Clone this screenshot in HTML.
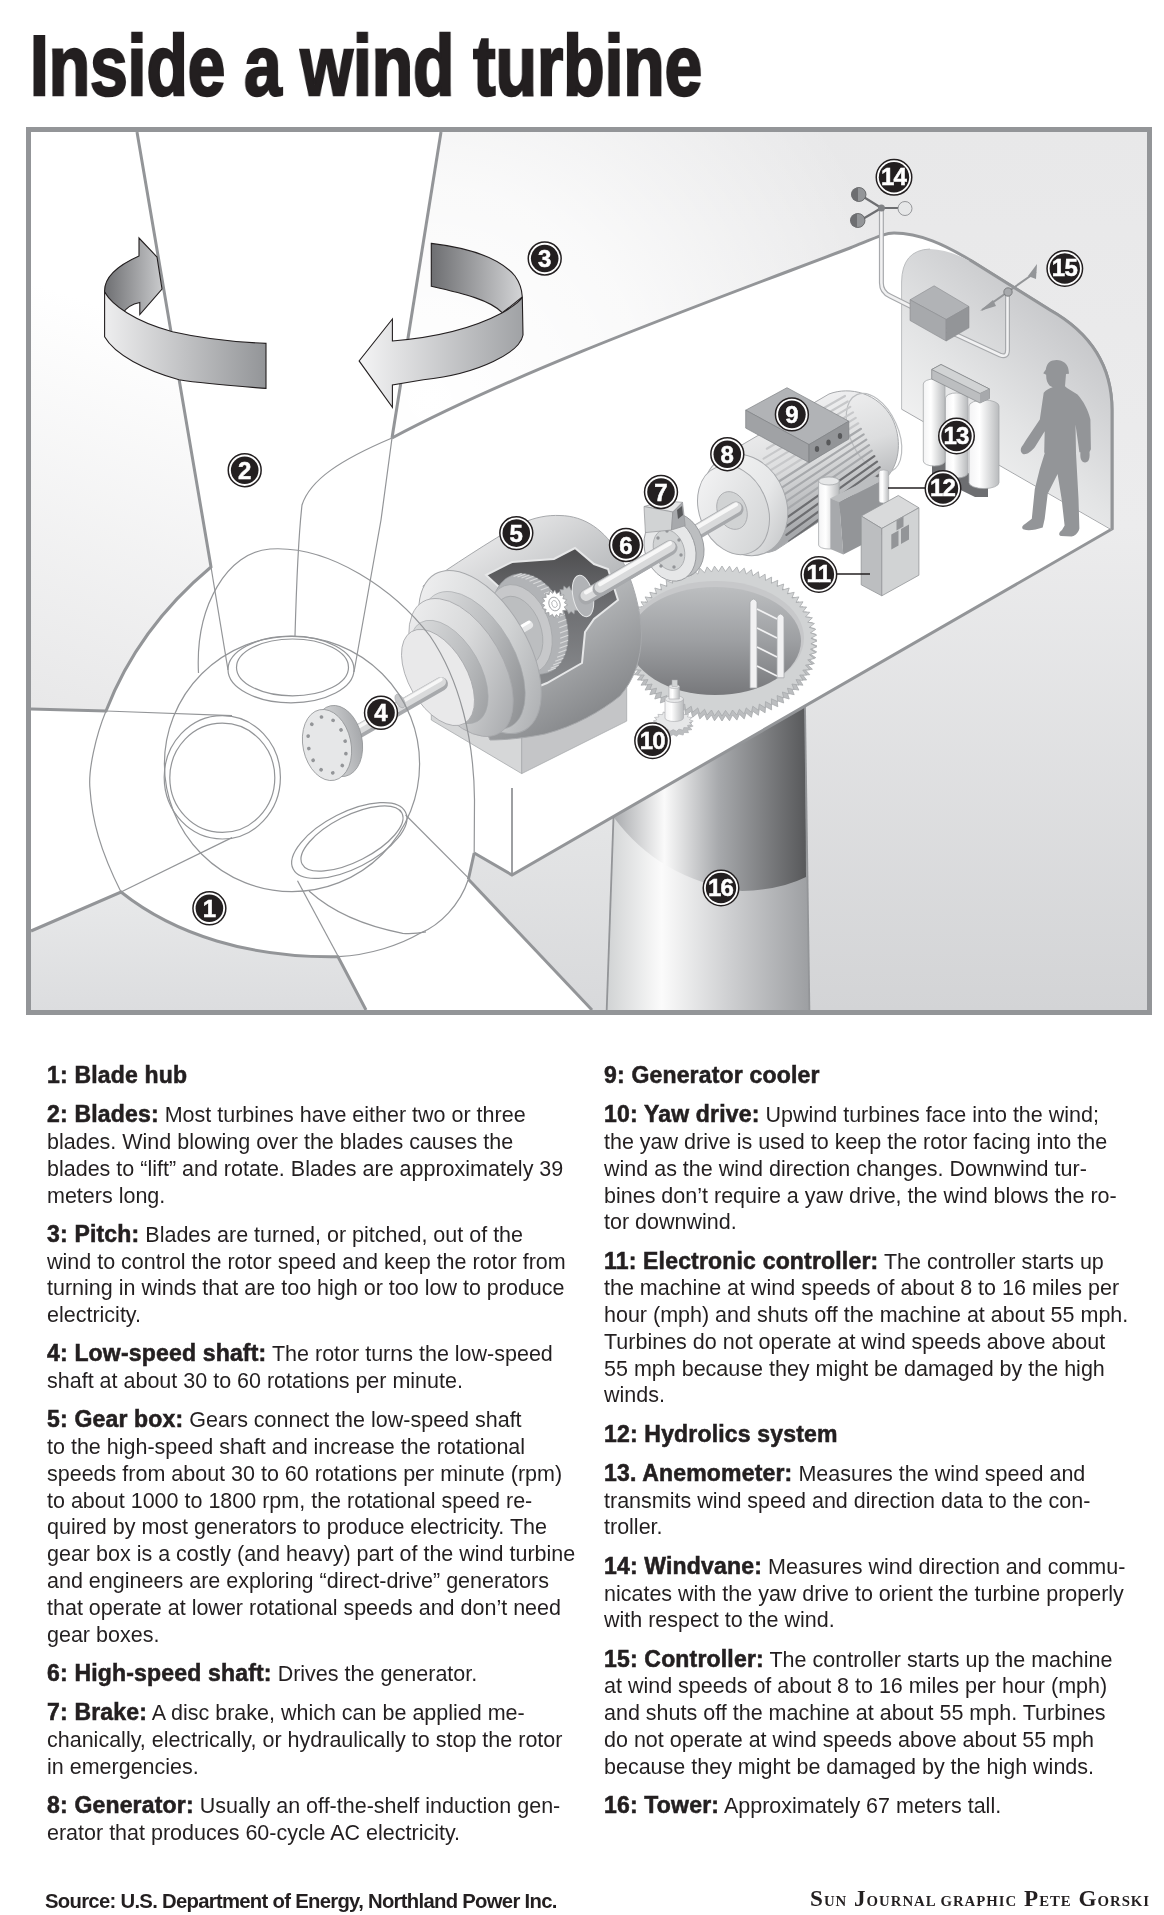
<!DOCTYPE html>
<html><head><meta charset="utf-8">
<style>
html,body{margin:0;padding:0;background:#fff;}
body{width:1164px;height:1915px;position:relative;overflow:hidden;font-family:"Liberation Sans",sans-serif;color:#231f20;}
#title{will-change:transform;position:absolute;left:30px;top:16px;font-weight:bold;font-size:84.7px;line-height:100px;white-space:nowrap;transform-origin:0 0;transform:scaleX(0.798);-webkit-text-stroke:2.5px #231f20;color:#231f20;}
#art{position:absolute;left:0;top:0;will-change:transform;}
.col{will-change:transform;position:absolute;top:1062.9px;font-size:21.5px;line-height:26.77px;white-space:nowrap;letter-spacing:0px;}
.col p{margin:0 0 12.5px 0;}
.col b{font-weight:bold;font-size:23px;line-height:0;letter-spacing:0.18px;-webkit-text-stroke:0.55px #231f20;}
#lc{left:47px;}
#rc{left:604px;}
#src{will-change:transform;position:absolute;left:45px;top:1886.5px;font-weight:bold;font-size:20.3px;line-height:28px;letter-spacing:-0.71px;white-space:nowrap;}
#cred{will-change:transform;position:absolute;left:810px;top:1884px;font-family:"Liberation Serif",serif;font-weight:bold;font-size:23.2px;line-height:28px;white-space:nowrap;letter-spacing:0.98px;}
#cred .s{font-size:14.8px;}
</style></head><body>
<div id="title">Inside a wind turbine</div>
<svg id="art" width="1164" height="1030" viewBox="0 0 1164 1030">
<!-- ART -->
<defs>
<linearGradient id="gUL" x1="170" y1="330" x2="40" y2="705" gradientUnits="userSpaceOnUse"><stop offset="0" stop-color="#ffffff"/><stop offset="1" stop-color="#e8e8e9"/></linearGradient>
<linearGradient id="gR" x1="0" y1="132" x2="0" y2="1010" gradientUnits="userSpaceOnUse"><stop offset="0" stop-color="#e8e8e9"/><stop offset="0.45" stop-color="#ececed"/><stop offset="1" stop-color="#d3d4d6"/></linearGradient>
<radialGradient id="gRw" cx="430" cy="400" r="480" gradientUnits="userSpaceOnUse"><stop offset="0" stop-color="#ffffff" stop-opacity="1"/><stop offset="0.45" stop-color="#ffffff" stop-opacity="0.75"/><stop offset="1" stop-color="#ffffff" stop-opacity="0"/></radialGradient>
<linearGradient id="gLM" x1="0" y1="820" x2="0" y2="1010" gradientUnits="userSpaceOnUse"><stop offset="0" stop-color="#e4e5e6"/><stop offset="1" stop-color="#d8d9db"/></linearGradient>
<linearGradient id="gLL" x1="0" y1="890" x2="0" y2="1010" gradientUnits="userSpaceOnUse"><stop offset="0" stop-color="#e8e9ea"/><stop offset="1" stop-color="#dcdddf"/></linearGradient>
<linearGradient id="gTw1" x1="612" y1="0" x2="806" y2="0" gradientUnits="userSpaceOnUse"><stop offset="0" stop-color="#a7a9ac"/><stop offset="0.27" stop-color="#fafafa"/><stop offset="0.55" stop-color="#a7a9ac"/><stop offset="1" stop-color="#58595b"/></linearGradient>
<linearGradient id="gTw2" x1="607" y1="0" x2="809" y2="0" gradientUnits="userSpaceOnUse"><stop offset="0" stop-color="#d1d3d4"/><stop offset="0.27" stop-color="#fbfbfb"/><stop offset="0.6" stop-color="#cfd0d2"/><stop offset="1" stop-color="#9d9fa2"/></linearGradient>
</defs>
<rect x="31" y="132" width="1116" height="878" fill="#ffffff"/>
<!-- upper-left sky -->
<path d="M31,132 L137,132 L211,567 Q138,628 106,711 L31,709 Z" fill="url(#gUL)"/>
<!-- right sky -->
<path d="M441,132 L1147,132 L1147,1010 L809,1010 L805,706 L1112,529 L1112,410 Q1112,345 1050,310 L970,260 C945,245 920,233 894,233 C885,233 875,238 850,248 C700,305 520,370 392,438 Z" fill="url(#gR)"/>
<path d="M441,132 L1147,132 L1147,1010 L809,1010 L805,706 L1112,529 L1112,410 Q1112,345 1050,310 L970,260 C945,245 920,233 894,233 C885,233 875,238 850,248 C700,305 520,370 392,438 Z" fill="url(#gRw)"/>
<!-- lower-left sky -->
<path d="M31,931 L121,892 C175,935 250,958 338,956.7 L366,1010 L31,1010 Z" fill="url(#gLL)"/>
<!-- lower-middle sky -->
<path d="M474.2,853 L512,875 L613.5,817 L606.7,1010 L592,1010 L468.4,879.3 Z" fill="url(#gLM)"/>
<!-- tower -->
<path d="M613.5,817 L805,706 L809.4,1010 L606.7,1010 Z" fill="url(#gTw2)"/>
<path d="M613.5,817 L805,706 L806,877 Q780,890 742,891 Q660,880 613.5,817 Z" fill="url(#gTw1)"/>
<!-- thick silhouette lines -->
<g fill="none" stroke="#939598" stroke-width="3">
<path d="M137,132 L211,567 Q138,628 106,711 L31,709"/>
<path d="M441,132 L392,438"/>
<path d="M31,931 L121,892 C175,935 250,958 338,956.7 L366,1010"/>
<path d="M392,438 C520,370 700,305 850,248 C875,238 885,233 894,233 C920,233 945,245 970,260 L1050,310 Q1112,345 1112,410 L1112,529 L512,875 L474.2,853"/>
<path d="M468.4,879.3 L592,1010"/>
</g>
<g fill="none" stroke="#939598" stroke-width="1.8">
<path d="M613.5,817 L606.7,1010"/>
<path d="M805,706 L809.4,1010"/>
<path d="M512,788 L512,875"/>
</g>



<!-- nacelle back wall -->
<defs>
<linearGradient id="gWall" x1="1100" y1="300" x2="930" y2="480" gradientUnits="userSpaceOnUse"><stop offset="0" stop-color="#bfc0c3"/><stop offset="0.6" stop-color="#e3e4e5"/><stop offset="1" stop-color="#f6f6f6"/></linearGradient>
<linearGradient id="gCyl" x1="0" y1="0" x2="1" y2="0"><stop offset="0" stop-color="#f3f3f4"/><stop offset="0.35" stop-color="#ffffff"/><stop offset="1" stop-color="#b9bbbd"/></linearGradient>
<linearGradient id="gPipe" x1="0" y1="0" x2="1" y2="0"><stop offset="0" stop-color="#d9dadb"/><stop offset="0.5" stop-color="#ffffff"/><stop offset="1" stop-color="#a7a9ac"/></linearGradient>
</defs>
<path d="M901.6,409.2 L901.6,282 Q902,250 930,249 Q952,250 975,264 L1050,310 Q1112,345 1112,410 L1112,529.5 Z" fill="url(#gWall)"/>
<path d="M901.6,409.2 L901.6,282 Q902,250 930,249" fill="none" stroke="#bcbec0" stroke-width="1"/>
<path d="M901.6,409.2 L1111,529.5" fill="none" stroke="#a7a9ac" stroke-width="1"/>
<path d="M970,260 L1050,310 Q1112,345 1112,410 L1112,529.5" fill="none" stroke="#939598" stroke-width="3"/>
<!-- anemometer mast & pipes -->
<g fill="none" stroke-linecap="round" stroke-linejoin="round">
<path d="M881.4,208 L881.4,283 Q881.4,292 890,296 L912,307 M946,330 L1000,355 Q1007.5,358 1007.5,350 L1007.5,292" stroke="#a7a9ac" stroke-width="5"/>
<path d="M881.4,208 L881.4,283 Q881.4,292 890,296 L912,307 M946,330 L1000,355 Q1007.5,358 1007.5,350 L1007.5,292" stroke="#f1f1f2" stroke-width="2.6"/>
</g>
<!-- controller box 15 -->
<path d="M910,299.8 L934.1,285.8 L969,306.5 L946.2,319.5 Z" fill="#b1b3b6" stroke="#8a8c8f" stroke-width="0.6"/>
<path d="M910,299.8 L946.2,319.5 L946.2,341 L910,320.5 Z" fill="#a7a9ac" stroke="#8a8c8f" stroke-width="0.6"/>
<path d="M946.2,319.5 L969,306.5 L969,327.8 L946.2,341 Z" fill="#939598" stroke="#8a8c8f" stroke-width="0.6"/>
<!-- windvane -->
<path d="M982,310 L1036,272" stroke="#939598" stroke-width="2" fill="none"/>
<path d="M980,311 L993,300 L996,306 Z" fill="#939598"/>
<path d="M1028,276 L1037,264 L1036,279 Z" fill="#939598"/>
<circle cx="1008" cy="292" r="4.2" fill="#a7a9ac" stroke="#6d6e71" stroke-width="0.8"/>
<!-- anemometer cups -->
<g stroke="#6d6e71" stroke-width="2.2"><path d="M881.4,208 L862,196 M881.4,208 L861,220 M881.4,208 L900,208"/></g>
<circle cx="859" cy="194.5" r="7" fill="#939598" stroke="#58595b" stroke-width="0.8"/>
<circle cx="858" cy="220.5" r="7" fill="#939598" stroke="#58595b" stroke-width="0.8"/>
<path d="M858,187.5 A7,7 0 0 0 858,201.5 Z" fill="#6d6e71"/>
<path d="M857,213.5 A7,7 0 0 0 857,227.5 Z" fill="#6d6e71"/>
<circle cx="905" cy="208.5" r="7" fill="#e6e7e8" stroke="#808285" stroke-width="0.8"/>
<circle cx="881.4" cy="208" r="3.5" fill="#808285"/>
<!-- person -->
<path fill="#939598" d="M1043.2,373.3 L1045.7,369.8 C1047,362 1051,360 1056.6,359.9 C1063,360 1068,364 1068.5,369.8 L1069,373.8 L1066,374 L1065,386.2 L1067,388 L1077.5,394.6 C1084,402 1088,410 1090.4,419.4 L1090.9,449.2 L1089.5,452 C1090,458 1089,462 1085,462.5 C1081,462 1080,458 1080.4,452.2 L1079.4,452.2 L1075.5,424.4 L1076,453.2 L1078.5,498.8 L1079.4,528.6 C1078,534 1074,536.5 1071.5,536.5 L1061,536 C1058,535 1059,532 1062,530 L1064.6,525.6 L1061.6,498.8 L1057.6,474 L1047.7,493.8 L1044.7,518.7 L1042.7,527.6 C1036,530 1028,531 1024,529.6 C1021,528 1022,526 1025,524 L1031.8,518.7 L1034.8,488.9 L1039.8,469 L1044.7,453.2 L1044.2,452.2 L1044.7,431.3 L1034.8,447.2 C1031,452 1026,455 1023,454 C1020,452 1020,448 1023,445 L1025.9,440.3 L1039.8,419.4 L1043.7,392.7 C1046,390 1050,388 1052.7,387.2 L1049.7,385.7 C1047,383 1046,379 1046.2,374.8 Z"/>
<!-- 13 cylinders -->
<path d="M932,455 L988,483 L988,497 L975,497 L932,476 Z" fill="#6d6e71"/>
<g stroke="#a7a9ac" stroke-width="0.8">
<path d="M923.3,384 A10.8,5 0 0 1 945,384 L945,461 A10.8,5 0 0 1 923.3,461 Z" fill="url(#gCyl)"/>
<path d="M945.5,398 A11,5 0 0 1 967.8,398 L967.8,473 A11,5 0 0 1 945.5,473 Z" fill="url(#gCyl)"/>
<path d="M969,406 A15,6 0 0 1 999,406 L999,482.6 A15,6 0 0 1 969,482.6 Z" fill="url(#gCyl)"/>
</g>
<path d="M931.7,369.5 L941,364.5 L989.5,389 L989.5,398.4 L980,403 L931.7,379 Z" fill="#bcbec0" stroke="#808285" stroke-width="0.7"/>
<path d="M931.7,369.5 L941,364.5 L989.5,389 L980,393.5 Z" fill="#d1d3d4" stroke="#808285" stroke-width="0.7"/>
<path d="M980,393.5 L989.5,389 L989.5,398.4 L980,403 Z" fill="#a7a9ac"/>


<!-- yaw gear -->
<defs>
<linearGradient id="gHole" x1="0" y1="587" x2="0" y2="695" gradientUnits="userSpaceOnUse"><stop offset="0" stop-color="#bcbec0"/><stop offset="0.5" stop-color="#9d9fa2"/><stop offset="1" stop-color="#77787b"/></linearGradient>
</defs>
<path d="M817.0,646.0 L810.9,648.7 L816.7,651.9 L810.4,654.2 L815.8,657.7 L809.3,659.6 L814.4,663.5 L807.7,664.9 L812.4,669.2 L805.5,670.1 L809.8,674.7 L802.8,675.1 L806.6,680.0 L799.7,680.0 L803.0,685.2 L796.0,684.6 L798.9,690.1 L791.9,689.0 L794.2,694.7 L787.4,693.2 L789.2,699.0 L782.4,697.0 L783.7,703.0 L777.1,700.6 L777.8,706.7 L771.4,703.8 L771.6,709.9 L765.5,706.6 L765.1,712.8 L759.3,709.1 L758.4,715.3 L752.8,711.2 L751.4,717.3 L746.2,712.9 L744.2,718.9 L739.4,714.2 L736.9,720.1 L732.5,715.0 L729.5,720.8 L725.5,715.4 L722.0,721.0 L718.5,715.4 L714.5,720.8 L711.5,715.0 L707.1,720.1 L704.6,714.2 L699.8,718.9 L697.8,712.9 L692.6,717.3 L691.2,711.2 L685.6,715.3 L684.7,709.1 L678.9,712.8 L678.5,706.6 L672.4,709.9 L672.6,703.8 L666.2,706.7 L666.9,700.6 L660.3,703.0 L661.6,697.0 L654.8,699.0 L656.6,693.2 L649.8,694.7 L652.1,689.0 L645.1,690.1 L648.0,684.6 L641.0,685.2 L644.3,680.0 L637.4,680.0 L641.2,675.1 L634.2,674.7 L638.5,670.1 L631.6,669.2 L636.3,664.9 L629.6,663.5 L634.7,659.6 L628.2,657.7 L633.6,654.2 L627.3,651.9 L633.1,648.7 L627.0,646.0 L633.1,643.3 L627.3,640.1 L633.6,637.8 L628.2,634.3 L634.7,632.4 L629.6,628.5 L636.3,627.1 L631.6,622.8 L638.5,621.9 L634.2,617.3 L641.2,616.9 L637.4,612.0 L644.3,612.0 L641.0,606.8 L648.0,607.4 L645.1,601.9 L652.1,603.0 L649.8,597.3 L656.6,598.8 L654.8,593.0 L661.6,595.0 L660.3,589.0 L666.9,591.4 L666.2,585.3 L672.6,588.2 L672.4,582.1 L678.5,585.4 L678.9,579.2 L684.7,582.9 L685.6,576.7 L691.2,580.8 L692.6,574.7 L697.8,579.1 L699.8,573.1 L704.6,577.8 L707.1,571.9 L711.5,577.0 L714.5,571.2 L718.5,576.6 L722.0,571.0 L725.5,576.6 L729.5,571.2 L732.5,577.0 L736.9,571.9 L739.4,577.8 L744.2,573.1 L746.2,579.1 L751.4,574.7 L752.8,580.8 L758.4,576.7 L759.3,582.9 L765.1,579.2 L765.5,585.4 L771.6,582.1 L771.4,588.2 L777.8,585.3 L777.1,591.4 L783.7,589.0 L782.4,595.0 L789.2,593.0 L787.4,598.8 L794.2,597.3 L791.9,603.0 L798.9,601.9 L796.0,607.4 L803.0,606.8 L799.7,612.0 L806.6,612.0 L802.8,616.9 L809.8,617.3 L805.5,621.9 L812.4,622.8 L807.7,627.1 L814.4,628.5 L809.3,632.4 L815.8,634.3 L810.4,637.8 L816.7,640.1 L810.9,643.3 Z" fill="#bcbec0" stroke="#a7a9ac" stroke-width="0.8"/>
<path d="M817.0,641.0 L810.9,643.7 L816.7,646.9 L810.4,649.2 L815.8,652.7 L809.3,654.6 L814.4,658.5 L807.7,659.9 L812.4,664.2 L805.5,665.1 L809.8,669.7 L802.8,670.1 L806.6,675.0 L799.7,675.0 L803.0,680.2 L796.0,679.6 L798.9,685.1 L791.9,684.0 L794.2,689.7 L787.4,688.2 L789.2,694.0 L782.4,692.0 L783.7,698.0 L777.1,695.6 L777.8,701.7 L771.4,698.8 L771.6,704.9 L765.5,701.6 L765.1,707.8 L759.3,704.1 L758.4,710.3 L752.8,706.2 L751.4,712.3 L746.2,707.9 L744.2,713.9 L739.4,709.2 L736.9,715.1 L732.5,710.0 L729.5,715.8 L725.5,710.4 L722.0,716.0 L718.5,710.4 L714.5,715.8 L711.5,710.0 L707.1,715.1 L704.6,709.2 L699.8,713.9 L697.8,707.9 L692.6,712.3 L691.2,706.2 L685.6,710.3 L684.7,704.1 L678.9,707.8 L678.5,701.6 L672.4,704.9 L672.6,698.8 L666.2,701.7 L666.9,695.6 L660.3,698.0 L661.6,692.0 L654.8,694.0 L656.6,688.2 L649.8,689.7 L652.1,684.0 L645.1,685.1 L648.0,679.6 L641.0,680.2 L644.3,675.0 L637.4,675.0 L641.2,670.1 L634.2,669.7 L638.5,665.1 L631.6,664.2 L636.3,659.9 L629.6,658.5 L634.7,654.6 L628.2,652.7 L633.6,649.2 L627.3,646.9 L633.1,643.7 L627.0,641.0 L633.1,638.3 L627.3,635.1 L633.6,632.8 L628.2,629.3 L634.7,627.4 L629.6,623.5 L636.3,622.1 L631.6,617.8 L638.5,616.9 L634.2,612.3 L641.2,611.9 L637.4,607.0 L644.3,607.0 L641.0,601.8 L648.0,602.4 L645.1,596.9 L652.1,598.0 L649.8,592.3 L656.6,593.8 L654.8,588.0 L661.6,590.0 L660.3,584.0 L666.9,586.4 L666.2,580.3 L672.6,583.2 L672.4,577.1 L678.5,580.4 L678.9,574.2 L684.7,577.9 L685.6,571.7 L691.2,575.8 L692.6,569.7 L697.8,574.1 L699.8,568.1 L704.6,572.8 L707.1,566.9 L711.5,572.0 L714.5,566.2 L718.5,571.6 L722.0,566.0 L725.5,571.6 L729.5,566.2 L732.5,572.0 L736.9,566.9 L739.4,572.8 L744.2,568.1 L746.2,574.1 L751.4,569.7 L752.8,575.8 L758.4,571.7 L759.3,577.9 L765.1,574.2 L765.5,580.4 L771.6,577.1 L771.4,583.2 L777.8,580.3 L777.1,586.4 L783.7,584.0 L782.4,590.0 L789.2,588.0 L787.4,593.8 L794.2,592.3 L791.9,598.0 L798.9,596.9 L796.0,602.4 L803.0,601.8 L799.7,607.0 L806.6,607.0 L802.8,611.9 L809.8,612.3 L805.5,616.9 L812.4,617.8 L807.7,622.1 L814.4,623.5 L809.3,627.4 L815.8,629.3 L810.4,632.8 L816.7,635.1 L810.9,638.3 Z" fill="#d1d3d4" stroke="#a7a9ac" stroke-width="0.8"/>
<ellipse cx="716" cy="638" rx="88" ry="57" fill="#c7c8ca"/>
<ellipse cx="715" cy="641" rx="86" ry="54" fill="url(#gHole)"/>
<!-- ladder -->
<g stroke="#a7a9ac" stroke-width="0.8" fill="#f1f1f2">
<path d="M750,602 Q753.6,596 757,602 L757,688 L750,688 Z"/>
<path d="M777,617 Q780.4,611 784,617 L784,677.8 L777,677.8 Z"/>
</g>
<g stroke="#f1f1f2" stroke-width="1.8"><path d="M757,609 L777,619 M757,628 L777,638 M757,647 L777,657 M757,666 L777,676"/></g>
<!-- yaw drive 10 -->
<path d="M693.2,726.0 L689.4,727.5 L692.0,729.6 L687.5,730.2 L688.5,732.7 L683.8,732.5 L683.2,735.1 L678.8,734.0 L676.7,736.3 L673.2,734.5 L669.7,736.3 L667.6,734.0 L663.2,735.1 L662.6,732.5 L657.9,732.7 L658.9,730.2 L654.4,729.6 L657.0,727.5 L653.2,726.0 L657.0,724.5 L654.4,722.4 L658.9,721.8 L657.9,719.3 L662.6,719.5 L663.2,716.9 L667.6,718.0 L669.7,715.7 L673.2,717.5 L676.7,715.7 L678.8,718.0 L683.2,716.9 L683.8,719.5 L688.5,719.3 L687.5,721.8 L692.0,722.4 L689.4,724.5 Z" fill="#bcbec0" stroke="#a7a9ac" stroke-width="0.6"/>
<path d="M693.2,721.1 L689.4,722.6 L692.0,724.7 L687.5,725.4 L688.5,727.8 L683.8,727.6 L683.2,730.2 L678.8,729.1 L676.7,731.4 L673.2,729.6 L669.7,731.4 L667.6,729.1 L663.2,730.2 L662.6,727.6 L657.9,727.8 L658.9,725.4 L654.4,724.7 L657.0,722.6 L653.2,721.1 L657.0,719.6 L654.4,717.5 L658.9,716.9 L657.9,714.4 L662.6,714.6 L663.2,712.0 L667.6,713.1 L669.7,710.8 L673.2,712.6 L676.7,710.8 L678.8,713.1 L683.2,712.0 L683.8,714.6 L688.5,714.4 L687.5,716.9 L692.0,717.5 L689.4,719.6 Z" fill="#e6e7e8" stroke="#a7a9ac" stroke-width="0.6"/>
<path d="M665,699 L665,718 A9.25,3.5 0 0 0 683.5,718 L683.5,699 Z" fill="url(#gCyl)" stroke="#a7a9ac" stroke-width="0.6"/>
<ellipse cx="674.2" cy="699" rx="9.25" ry="3.5" fill="#e6e7e8" stroke="#a7a9ac" stroke-width="0.6"/>
<path d="M669,686.5 L669,699 L679.4,699 L679.4,686.5 Z" fill="url(#gCyl)" stroke="#a7a9ac" stroke-width="0.6"/>
<ellipse cx="674.2" cy="686.5" rx="5.2" ry="2" fill="#e6e7e8" stroke="#a7a9ac" stroke-width="0.6"/>
<rect x="672" y="680" width="5.3" height="6.5" fill="#d1d3d4" stroke="#a7a9ac" stroke-width="0.5"/>
<!-- generator etc -->
<defs>
<linearGradient id="gGen" x1="790" y1="400" x2="830" y2="520" gradientUnits="userSpaceOnUse"><stop offset="0" stop-color="#f1f1f2"/><stop offset="0.5" stop-color="#dcddde"/><stop offset="1" stop-color="#a7a9ac"/></linearGradient>
<linearGradient id="gGenF" x1="700" y1="470" x2="765" y2="550" gradientUnits="userSpaceOnUse"><stop offset="0" stop-color="#f4f4f5"/><stop offset="1" stop-color="#d1d3d4"/></linearGradient>
<linearGradient id="gShaft" x1="0" y1="0" x2="0" y2="1"><stop offset="0" stop-color="#ffffff"/><stop offset="0.5" stop-color="#d1d3d4"/><stop offset="1" stop-color="#939598"/></linearGradient>
<linearGradient id="gBox" x1="0" y1="0" x2="1" y2="0"><stop offset="0" stop-color="#d1d3d4"/><stop offset="1" stop-color="#bcbec0"/></linearGradient>
</defs>
<!-- generator body -->
<defs>
<linearGradient id="gDome" x1="700" y1="460" x2="790" y2="555" gradientUnits="userSpaceOnUse"><stop offset="0" stop-color="#f7f7f7"/><stop offset="0.6" stop-color="#e6e7e8"/><stop offset="1" stop-color="#bcbec0"/></linearGradient>
</defs>
<path d="M740,446 L829,394 C850,386 878,393 892,418 C902,438 900,462 888,476 L776,550 C760,557 745,550 740,540 Z" fill="url(#gGen)" stroke="#a7a9ac" stroke-width="1"/>
<ellipse cx="874" cy="433" rx="24" ry="42" transform="rotate(-24 874 433)" fill="none" stroke="#bcbec0" stroke-width="1.2"/>
<clipPath id="cBody"><path d="M740,446 L829,394 C850,386 878,393 892,418 C902,438 900,462 888,476 L776,550 C760,557 745,550 740,540 Z"/></clipPath>
<g stroke-width="2.2" stroke-linecap="round" clip-path="url(#cBody)">
<path d="M770.0,438.8 L845.0,396.0" stroke="#c7c8ca"/>
<path d="M766.8,448.7 L847.7,401.5" stroke="#c7c8ca"/>
<path d="M763.6,458.6 L850.3,406.9" stroke="#c7c8ca"/>
<path d="M758.4,469.6 L853.0,412.4" stroke="#c7c8ca"/>
<path d="M761.2,476.1 L855.7,417.9" stroke="#c7c8ca"/>
<path d="M764.0,482.7 L858.3,423.3" stroke="#c7c8ca"/>
<path d="M766.8,489.2 L861.0,428.8" stroke="#a7a9ac"/>
<path d="M769.6,495.7 L863.7,434.3" stroke="#a7a9ac"/>
<path d="M772.4,502.3 L866.3,439.7" stroke="#a7a9ac"/>
<path d="M775.2,508.8 L869.0,445.2" stroke="#a7a9ac"/>
<path d="M778.0,515.3 L871.7,450.7" stroke="#a7a9ac"/>
<path d="M780.8,521.9 L874.3,456.1" stroke="#6d6e71"/>
<path d="M783.6,528.4 L877.0,461.6" stroke="#6d6e71"/>
<path d="M786.4,534.9 L879.7,467.1" stroke="#6d6e71"/>
<path d="M789.2,541.5 L882.3,472.5" stroke="#6d6e71"/>
<path d="M792.0,548.0 L885.0,478.0" stroke="#6d6e71"/>
</g>
<ellipse cx="745" cy="505" rx="41" ry="52" transform="rotate(-22 745 505)" fill="url(#gDome)" stroke="#a7a9ac" stroke-width="1"/>
<ellipse cx="733.5" cy="510" rx="34" ry="46" transform="rotate(-22 733.5 510)" fill="url(#gGenF)" stroke="#a7a9ac" stroke-width="1"/>
<ellipse cx="732" cy="510.5" rx="14.5" ry="19.5" transform="rotate(-22 732 510.5)" fill="#d1d3d4" stroke="#a7a9ac" stroke-width="0.8"/>
<!-- cooler box 9 -->
<path d="M745.7,410.2 L787,387.7 L848.8,421.2 L809,444.6 Z" fill="#b1b3b6" stroke="#808285" stroke-width="0.7"/>
<path d="M745.7,410.2 L809,444.6 L809,462.5 L745.7,428.1 Z" fill="#a0a2a5" stroke="#808285" stroke-width="0.7"/>
<path d="M809,444.6 L848.8,421.2 L848.8,439.1 L809,462.5 Z" fill="#939598" stroke="#808285" stroke-width="0.7"/>
<g fill="#58595b"><ellipse cx="817" cy="449" rx="2.2" ry="3"/><ellipse cx="828.5" cy="442.5" rx="2.2" ry="3"/><ellipse cx="840" cy="436" rx="2.2" ry="3"/></g>
<!-- hydraulics 12 -->
<path d="M818.6,481 A10.3,4 0 0 1 839.2,481 L839.2,545 A10.3,4 0 0 1 818.6,545 Z" fill="url(#gCyl)" stroke="#a7a9ac" stroke-width="0.8"/>
<ellipse cx="828.9" cy="481" rx="10.3" ry="4" fill="#e6e7e8" stroke="#a7a9ac" stroke-width="0.8"/>
<path d="M830.4,498.2 L875,476.2 L883,480.3 L839.2,502.3 Z" fill="#bcbec0"/>
<path d="M830.4,498.2 L839.2,502.3 L843.3,554.6 L830.4,549 Z" fill="#a7a9ac"/>
<path d="M839.2,502.3 L883,480.3 L883,534 L843.3,554.6 Z" fill="#939598"/>
<path d="M879,472 A4.85,2 0 0 1 888.7,472 L888.7,501 A4.85,2 0 0 1 879,501 Z" fill="url(#gCyl)" stroke="#a7a9ac" stroke-width="0.6"/>
<path d="M888,488 L925,488" stroke="#231f20" stroke-width="1.3"/>
<!-- controller 11 -->
<path d="M861.2,516 L898.3,495.5 L918.9,507.8 L881.8,528.5 Z" fill="#d9dadb" stroke="#939598" stroke-width="0.8"/>
<path d="M861.2,516 L881.8,528.5 L881.8,595.8 L861.2,584.8 Z" fill="#bcbec0" stroke="#939598" stroke-width="0.8"/>
<path d="M881.8,528.5 L918.9,507.8 L918.9,575.2 L881.8,595.8 Z" fill="#d1d3d4" stroke="#939598" stroke-width="0.8"/>
<g fill="#939598"><path d="M896.5,520.5 L903.5,516.6 L903.5,526.6 L896.5,530.5 Z"/><path d="M891.3,534.5 L898.5,530.5 L898.5,545.5 L891.3,549.5 Z"/><path d="M901,529 L909,524.5 L909,539.5 L901,544 Z"/></g>
<path d="M836,574 L870,574" stroke="#231f20" stroke-width="1.3"/>

<!-- gearbox 5 -->
<defs>
<linearGradient id="gShell" x1="470" y1="530" x2="600" y2="730" gradientUnits="userSpaceOnUse"><stop offset="0" stop-color="#ececed"/><stop offset="0.45" stop-color="#bcbec0"/><stop offset="1" stop-color="#808285"/></linearGradient>
<linearGradient id="gWin" x1="0" y1="548" x2="0" y2="690" gradientUnits="userSpaceOnUse"><stop offset="0" stop-color="#4d4d4f"/><stop offset="0.4" stop-color="#6d6e71"/><stop offset="1" stop-color="#8a8c8f"/></linearGradient>
<linearGradient id="gRim" x1="420" y1="590" x2="540" y2="720" gradientUnits="userSpaceOnUse"><stop offset="0" stop-color="#f1f1f2"/><stop offset="0.6" stop-color="#d1d3d4"/><stop offset="1" stop-color="#a7a9ac"/></linearGradient>
<linearGradient id="gStep" x1="400" y1="610" x2="500" y2="730" gradientUnits="userSpaceOnUse"><stop offset="0" stop-color="#f1f1f2"/><stop offset="0.5" stop-color="#d9dadb"/><stop offset="1" stop-color="#a7a9ac"/></linearGradient>
<linearGradient id="gStepS" x1="420" y1="600" x2="530" y2="725" gradientUnits="userSpaceOnUse"><stop offset="0" stop-color="#e6e7e8"/><stop offset="0.5" stop-color="#bcbec0"/><stop offset="1" stop-color="#808285"/></linearGradient>
<linearGradient id="gFl" x1="0" y1="0" x2="1" y2="0"><stop offset="0" stop-color="#e6e7e8"/><stop offset="1" stop-color="#a7a9ac"/></linearGradient>
</defs>
<path d="M431.3,700 L431.3,720 L521.7,773.6 L521.7,735 Z" fill="#d6d7d8" stroke="#a7a9ac" stroke-width="0.8"/>
<path d="M521.7,735 L521.7,773.6 L626.7,721.1 L626.7,669.8 Z" fill="#c4c5c7" stroke="#a7a9ac" stroke-width="0.8"/>
<path d="M423,586 C452,566 490,541 520,524 C535,517 548,515 560,515.5 C585,516 605,530 620,556 C633,580 641,610 641.5,635 C641,660 634,680 620,696 C600,712 575,726 545,734 C525,738 505,740 490,740 Z" fill="url(#gShell)" stroke="#a7a9ac" stroke-width="1"/>
<path d="M486,575 L512,562 L554,559 L575,548 L594,564 L608,569 L618,600 L594,619 L585,632 L582,663 L547,683 L530,690 L525,611 Z" fill="url(#gWin)" stroke="#e6e7e8" stroke-width="2"/>
<!-- inner drum -->
<ellipse cx="530" cy="624" rx="36" ry="52" transform="rotate(-20 530 624)" fill="#b1b3b6" stroke="#939598" stroke-width="0.6"/>
<path d="M513.6,576.6 L521.6,573.6 M517.5,577.0 L525.5,574.0 M521.5,577.9 L529.5,574.9 M525.5,579.3 L533.5,576.3 M529.5,581.3 L537.5,578.3 M533.3,583.7 L541.3,580.7 M537.1,586.7 L545.1,583.7 M540.7,590.1 L548.7,587.1 M544.1,593.8 L552.1,590.8 M547.2,598.0 L555.2,595.0 M550.1,602.5 L558.1,599.5 M552.6,607.2 L560.6,604.2 M554.9,612.1 L562.9,609.1 M556.7,617.3 L564.7,614.3 M558.2,622.5 L566.2,619.5 M559.3,627.8 L567.3,624.8 M560.0,633.0 L568.0,630.0 M560.2,638.2 L568.2,635.2 M560.1,643.3 L568.1,640.3 M559.5,648.2 L567.5,645.2 M558.5,652.8 L566.5,649.8 M557.1,657.2 L565.1,654.2 M555.3,661.3 L563.3,658.3 M553.2,664.9 L561.2,661.9 M550.7,668.2 L558.7,665.2 M547.9,671.0 L555.9,668.0" stroke="#d9dadb" stroke-width="1.1"/>
<ellipse cx="520" cy="629" rx="30" ry="46" transform="rotate(-20 520 629)" fill="#c7c8ca" stroke="#a7a9ac" stroke-width="0.8"/>
<ellipse cx="518" cy="631" rx="23" ry="36" transform="rotate(-20 518 631)" fill="#bcbec0" stroke="#a7a9ac" stroke-width="0.8"/>
<path d="M495,646 L529,626" stroke="#bcbec0" stroke-width="13" stroke-linecap="round"/>
<path d="M495,645 L529,625" stroke="#e6e7e8" stroke-width="8" stroke-linecap="round"/>
<path d="M495,642 L529,622" stroke="#ffffff" stroke-width="3" stroke-linecap="round"/>
<path d="M578.4,596.6 L576.9,600.4 L579.7,604.1 L576.9,606.2 L578.1,610.5 L574.8,610.2 L574.1,614.1 L571.1,611.6 L568.7,613.9 L566.9,609.8 L563.4,610.0 L563.3,605.4 L559.6,603.4 L561.1,599.6 L558.3,595.9 L561.1,593.8 L559.9,589.5 L563.2,589.8 L563.9,585.9 L566.9,588.4 L569.3,586.1 L571.1,590.2 L574.6,590.0 L574.7,594.6 Z" fill="#bcbec0" stroke="#939598" stroke-width="0.6"/>
<ellipse cx="583" cy="596" rx="10" ry="21" transform="rotate(-12 583 596)" fill="#b1b3b6" stroke="#e6e7e8" stroke-width="1"/>
<path d="M566.7,599.6 L564.3,602.7 L567.6,604.9 L564.2,606.9 L566.5,610.2 L562.7,610.6 L563.6,614.5 L559.9,613.3 L559.3,617.2 L556.3,614.6 L554.2,617.9 L552.5,614.3 L549.2,616.4 L548.9,612.4 L545.0,613.1 L546.2,609.3 L542.3,608.4 L544.7,605.3 L541.4,603.1 L544.8,601.1 L542.5,597.8 L546.3,597.4 L545.4,593.5 L549.1,594.7 L549.7,590.8 L552.7,593.4 L554.8,590.1 L556.5,593.7 L559.8,591.6 L560.1,595.6 L564.0,594.9 L562.8,598.7 Z" fill="#ffffff" stroke="#939598" stroke-width="0.7"/>
<ellipse cx="554.5" cy="604" rx="5.5" ry="7" transform="rotate(-20 554.5 604)" fill="none" stroke="#939598" stroke-width="0.8"/>
<ellipse cx="554.5" cy="604" rx="2.6" ry="3.6" transform="rotate(-20 554.5 604)" fill="none" stroke="#939598" stroke-width="0.6"/>
<!-- front rim & steps -->
<ellipse cx="480" cy="652" rx="48" ry="90" transform="rotate(-30 480 652)" fill="url(#gRim)" stroke="#a7a9ac" stroke-width="1"/>
<ellipse cx="473" cy="660.5" rx="41.4" ry="76" transform="rotate(-30 473 660.5)" fill="url(#gStepS)" stroke="#a7a9ac" stroke-width="0.6"/>
<ellipse cx="461" cy="667.5" rx="41.4" ry="76" transform="rotate(-30 461 667.5)" fill="url(#gStep)" stroke="#a7a9ac" stroke-width="0.8"/>
<ellipse cx="449" cy="672" rx="31" ry="57" transform="rotate(-30 449 672)" fill="url(#gStepS)" stroke="#a7a9ac" stroke-width="0.6"/>
<ellipse cx="438" cy="677.5" rx="29" ry="53" transform="rotate(-30 438 677.5)" fill="#e9e9ea" stroke="#a7a9ac" stroke-width="0.8"/>
<!-- shaft 6 -->
<path d="M586,597 L736,509" stroke="#a7a9ac" stroke-width="15" stroke-linecap="round"/>
<path d="M586,595.5 L736,507.5" stroke="#d9dadb" stroke-width="11" stroke-linecap="round"/>
<path d="M586,592.5 L736,504.5" stroke="#f7f7f7" stroke-width="4" stroke-linecap="round"/>
<!-- brake disc 7 -->
<ellipse cx="678" cy="545" rx="25" ry="33" transform="rotate(-20 678 545)" fill="#bcbec0" stroke="#939598" stroke-width="0.8"/>
<ellipse cx="670" cy="549" rx="25" ry="33" transform="rotate(-20 670 549)" fill="#e6e7e8" stroke="#939598" stroke-width="0.8"/>
<ellipse cx="669" cy="550" rx="15" ry="21" transform="rotate(-20 669 550)" fill="#d1d3d4" stroke="#a7a9ac" stroke-width="0.8"/>
<g fill="#939598"><circle cx="658" cy="538" r="1.7"/><circle cx="667" cy="531" r="1.7"/><circle cx="679" cy="540" r="1.7"/><circle cx="681" cy="555" r="1.7"/><circle cx="674" cy="567" r="1.7"/><circle cx="661" cy="566" r="1.7"/></g>
<path d="M600,588.8 L670,547.7" stroke="#a7a9ac" stroke-width="15" stroke-linecap="round"/>
<path d="M600,587.3 L670,546.2" stroke="#d9dadb" stroke-width="11" stroke-linecap="round"/>
<path d="M600,584.3 L670,543.2" stroke="#f7f7f7" stroke-width="4" stroke-linecap="round"/>
<path d="M644,506.5 L663.2,501 L682.5,502.3 L672.8,512 Z" fill="#e6e7e8" stroke="#939598" stroke-width="0.7"/>
<path d="M644,506.5 L672.8,512 L671.5,530 L645.4,532.6 Z" fill="#d1d3d4" stroke="#939598" stroke-width="0.7"/>
<path d="M672.8,512 L682.5,502.3 L685.2,525.7 L671.5,530 Z" fill="#a7a9ac" stroke="#939598" stroke-width="0.7"/>
<path d="M677,510 L682,506 L683,515 L678,519 Z" fill="#58595b"/>
<!-- low speed shaft 4 -->
<path d="M354,734 L441,684" stroke="#a7a9ac" stroke-width="14" stroke-linecap="round"/>
<path d="M354,732 L441,682" stroke="#d9dadb" stroke-width="10" stroke-linecap="round"/>
<path d="M354,729.5 L441,679.5" stroke="#f7f7f7" stroke-width="3.5" stroke-linecap="round"/>
<ellipse cx="400" cy="701" rx="4" ry="7.5" transform="rotate(-30 400 701)" fill="#c7c8ca" stroke="#a7a9ac" stroke-width="0.6"/>
<ellipse cx="338" cy="741" rx="24" ry="36" transform="rotate(-12 338 741)" fill="url(#gFl)" stroke="#939598" stroke-width="0.8"/>
<ellipse cx="327" cy="745" rx="24" ry="36" transform="rotate(-12 327 745)" fill="#e6e7e8" stroke="#939598" stroke-width="0.8"/>
<ellipse cx="327" cy="745" rx="18.5" ry="28.5" transform="rotate(-12 327 745)" fill="none" stroke="#939598" stroke-width="3.6" stroke-linecap="round" stroke-dasharray="0.1 12.35"/>
<!-- hub thin outlines -->
<g fill="none" stroke="#939598" stroke-width="1.2">
<circle cx="292" cy="764" r="127.6"/>
<ellipse cx="291" cy="669.5" rx="63" ry="33.3"/>
<ellipse cx="292.5" cy="667.4" rx="56" ry="28.4"/>
<ellipse cx="222.3" cy="777.3" rx="58.1" ry="61.7"/>
<ellipse cx="222.3" cy="777.8" rx="52.5" ry="54.6"/>
<ellipse cx="0" cy="0" rx="63" ry="28" transform="translate(349.3,840.5) rotate(-27)"/>
<ellipse cx="0" cy="0" rx="56" ry="23" transform="translate(352,838.5) rotate(-27)"/>
<!-- blade1 root lines -->
<path d="M211,567 L228,670"/>
<path d="M392,438 L381,520 L354,672"/>
<path d="M392,438 C340,460 310,480 302,505 C298,540 296,600 295,636"/>
<!-- egg -->
<path d="M198.5,673 C195,605 228,552 270,549 C330,545 395,590 430,636 C460,680 474,740 474.5,800 L474.2,853"/>
<path d="M106,711 C96,735 88,770 90,789 C92,820 100,850 121,892"/>
<path d="M468.4,879.3 C460,905 440,925 420,933.3 C400,945 370,955 338.4,956.7"/>
<!-- blade2 root lines -->
<path d="M106,711 L232,715.6"/>
<path d="M121,892 L232,837.6"/>
<!-- blade3 root lines -->
<path d="M297.5,880.8 L338.4,956.7"/>
<path d="M405.6,815 L469.8,879.3"/>
<path d="M309,891 C330,910 360,925 402.7,933.3 C412,934 420,933 426,931.9"/>
</g>
<g fill="none" stroke="#939598" stroke-width="3">
<path d="M474.2,853 L468.4,879.3"/>
</g>
<!-- pitch arrows -->
<defs>
<linearGradient id="gA1b" x1="104" y1="0" x2="162" y2="0" gradientUnits="userSpaceOnUse"><stop offset="0" stop-color="#6d6e71"/><stop offset="1" stop-color="#c9cacc"/></linearGradient>
<linearGradient id="gA1f" x1="104" y1="0" x2="266" y2="0" gradientUnits="userSpaceOnUse"><stop offset="0" stop-color="#eeeeef"/><stop offset="1" stop-color="#939598"/></linearGradient>
<linearGradient id="gA2b" x1="431" y1="0" x2="523" y2="0" gradientUnits="userSpaceOnUse"><stop offset="0" stop-color="#6d6e71"/><stop offset="1" stop-color="#d4d5d7"/></linearGradient>
<linearGradient id="gA2f" x1="359" y1="0" x2="523" y2="0" gradientUnits="userSpaceOnUse"><stop offset="0" stop-color="#f4f4f5"/><stop offset="1" stop-color="#a0a2a5"/></linearGradient>
</defs>
<g stroke="#231f20" stroke-width="1.1" stroke-linejoin="miter">
<path d="M104.6,292 C104,280 112,268 139,256 L139,238 L157,257 L162,289 L139.8,314.5 L139.8,302.5 C132,304 126,308 122.6,313.6 C115,306 108,300 104.6,292 Z" fill="url(#gA1b)"/>
<path d="M104.6,292 C112,305 135,322 172.5,331.7 C200,338 235,342 266,343.4 L266,388.4 C235,386 205,384 179,379.8 C145,370 115,355 104.6,336.8 Z" fill="url(#gA1f)"/>
<path d="M431.3,243.4 C470,248 500,258 515,276 C520,283 522,290 522.3,297 L502.4,312.8 C490,300 465,294 431.3,286.3 Z" fill="url(#gA2b)"/>
<path d="M522.3,297 L523,335 C520,352 480,374 423.4,379.8 L392.4,385 L392.4,407.3 L359.1,360.9 L392.4,319 L392.4,341 C430,338 470,330 502.4,312.8 C512,307 520,302 522.3,297 Z" fill="url(#gA2f)"/>
</g>
<!-- labels -->
<g font-family="Liberation Sans, sans-serif" font-weight="bold" text-anchor="middle">
<circle cx="209.4" cy="908.3" r="16.45" fill="#fff" stroke="#231f20" stroke-width="1.5"/><circle cx="209.4" cy="908.3" r="13.8" fill="#231f20"/>
<text x="209.4" y="916.9" font-size="24" fill="#fff" stroke="#fff" stroke-width="0.5" letter-spacing="0">1</text>
<circle cx="244.7" cy="470.2" r="16.45" fill="#fff" stroke="#231f20" stroke-width="1.5"/><circle cx="244.7" cy="470.2" r="13.8" fill="#231f20"/>
<text x="244.7" y="478.8" font-size="24" fill="#fff" stroke="#fff" stroke-width="0.5" letter-spacing="0">2</text>
<circle cx="544.7" cy="258.5" r="16.45" fill="#fff" stroke="#231f20" stroke-width="1.5"/><circle cx="544.7" cy="258.5" r="13.8" fill="#231f20"/>
<text x="544.7" y="267.1" font-size="24" fill="#fff" stroke="#fff" stroke-width="0.5" letter-spacing="0">3</text>
<circle cx="381" cy="712.8" r="16.45" fill="#fff" stroke="#231f20" stroke-width="1.5"/><circle cx="381" cy="712.8" r="13.8" fill="#231f20"/>
<text x="381.0" y="721.4" font-size="24" fill="#fff" stroke="#fff" stroke-width="0.5" letter-spacing="0">4</text>
<circle cx="516.3" cy="533.1" r="16.45" fill="#fff" stroke="#231f20" stroke-width="1.5"/><circle cx="516.3" cy="533.1" r="13.8" fill="#231f20"/>
<text x="516.3" y="541.7" font-size="24" fill="#fff" stroke="#fff" stroke-width="0.5" letter-spacing="0">5</text>
<circle cx="626" cy="545" r="16.45" fill="#fff" stroke="#231f20" stroke-width="1.5"/><circle cx="626" cy="545" r="13.8" fill="#231f20"/>
<text x="626.0" y="553.6" font-size="24" fill="#fff" stroke="#fff" stroke-width="0.5" letter-spacing="0">6</text>
<circle cx="661" cy="492" r="16.45" fill="#fff" stroke="#231f20" stroke-width="1.5"/><circle cx="661" cy="492" r="13.8" fill="#231f20"/>
<text x="661.0" y="500.6" font-size="24" fill="#fff" stroke="#fff" stroke-width="0.5" letter-spacing="0">7</text>
<circle cx="727.3" cy="454.2" r="16.45" fill="#fff" stroke="#231f20" stroke-width="1.5"/><circle cx="727.3" cy="454.2" r="13.8" fill="#231f20"/>
<text x="727.3" y="462.8" font-size="24" fill="#fff" stroke="#fff" stroke-width="0.5" letter-spacing="0">8</text>
<circle cx="791.9" cy="414.4" r="16.45" fill="#fff" stroke="#231f20" stroke-width="1.5"/><circle cx="791.9" cy="414.4" r="13.8" fill="#231f20"/>
<text x="791.9" y="423.0" font-size="24" fill="#fff" stroke="#fff" stroke-width="0.5" letter-spacing="0">9</text>
<circle cx="652.6" cy="740.7" r="17.75" fill="#fff" stroke="#231f20" stroke-width="1.5"/><circle cx="652.6" cy="740.7" r="15.2" fill="#231f20"/>
<text x="652.2" y="748.5" font-size="24" fill="#fff" stroke="#fff" stroke-width="0.5" letter-spacing="-0.8">10</text>
<circle cx="818.9" cy="574.5" r="17.75" fill="#fff" stroke="#231f20" stroke-width="1.5"/><circle cx="818.9" cy="574.5" r="15.2" fill="#231f20"/>
<text x="818.5" y="582.3" font-size="24" fill="#fff" stroke="#fff" stroke-width="0.5" letter-spacing="-0.8">11</text>
<circle cx="943" cy="488.5" r="17.75" fill="#fff" stroke="#231f20" stroke-width="1.5"/><circle cx="943" cy="488.5" r="15.2" fill="#231f20"/>
<text x="942.6" y="496.3" font-size="24" fill="#fff" stroke="#fff" stroke-width="0.5" letter-spacing="-0.8">12</text>
<circle cx="956.5" cy="436" r="17.75" fill="#fff" stroke="#231f20" stroke-width="1.5"/><circle cx="956.5" cy="436" r="15.2" fill="#231f20"/>
<text x="956.1" y="443.8" font-size="24" fill="#fff" stroke="#fff" stroke-width="0.5" letter-spacing="-0.8">13</text>
<circle cx="894" cy="177.3" r="17.75" fill="#fff" stroke="#231f20" stroke-width="1.5"/><circle cx="894" cy="177.3" r="15.2" fill="#231f20"/>
<text x="893.6" y="185.1" font-size="24" fill="#fff" stroke="#fff" stroke-width="0.5" letter-spacing="-0.8">14</text>
<circle cx="1064.8" cy="268.5" r="17.75" fill="#fff" stroke="#231f20" stroke-width="1.5"/><circle cx="1064.8" cy="268.5" r="15.2" fill="#231f20"/>
<text x="1064.4" y="276.3" font-size="24" fill="#fff" stroke="#fff" stroke-width="0.5" letter-spacing="-0.8">15</text>
<circle cx="721" cy="888" r="17.75" fill="#fff" stroke="#231f20" stroke-width="1.5"/><circle cx="721" cy="888" r="15.2" fill="#231f20"/>
<text x="720.6" y="895.8" font-size="24" fill="#fff" stroke="#fff" stroke-width="0.5" letter-spacing="-0.8">16</text>
</g>
<!-- FRAME -->
<rect x="28.5" y="129.5" width="1121" height="883" fill="none" stroke="#939598" stroke-width="5"/>
</svg>
<div class="col" id="lc">
<p><b>1: Blade hub</b></p>
<p><b>2: Blades:</b> Most turbines have either two or three<br>blades. Wind blowing over the blades causes the<br>blades to “lift” and rotate. Blades are approximately 39<br>meters long.</p>
<p><b>3: Pitch:</b> Blades are turned, or pitched, out of the<br>wind to control the rotor speed and keep the rotor from<br>turning in winds that are too high or too low to produce<br>electricity.</p>
<p><b>4: Low-speed shaft:</b> The rotor turns the low-speed<br>shaft at about 30 to 60 rotations per minute.</p>
<p><b>5: Gear box:</b> Gears connect the low-speed shaft<br>to the high-speed shaft and increase the rotational<br>speeds from about 30 to 60 rotations per minute (rpm)<br>to about 1000 to 1800 rpm, the rotational speed re-<br>quired by most generators to produce electricity. The<br>gear box is a costly (and heavy) part of the wind turbine<br>and engineers are exploring “direct-drive” generators<br>that operate at lower rotational speeds and don’t need<br>gear boxes.</p>
<p><b>6: High-speed shaft:</b> Drives the generator.</p>
<p><b>7: Brake:</b> A disc brake, which can be applied me-<br>chanically, electrically, or hydraulically to stop the rotor<br>in emergencies.</p>
<p><b>8: Generator:</b> Usually an off-the-shelf induction gen-<br>erator that produces 60-cycle AC electricity.</p>
</div>
<div class="col" id="rc">
<p><b>9: Generator cooler</b></p>
<p><b>10: Yaw drive:</b> Upwind turbines face into the wind;<br>the yaw drive is used to keep the rotor facing into the<br>wind as the wind direction changes. Downwind tur-<br>bines don’t require a yaw drive, the wind blows the ro-<br>tor downwind.</p>
<p><b>11: Electronic controller:</b> The controller starts up<br>the machine at wind speeds of about 8 to 16 miles per<br>hour (mph) and shuts off the machine at about 55 mph.<br>Turbines do not operate at wind speeds above about<br>55 mph because they might be damaged by the high<br>winds.</p>
<p><b>12: Hydrolics system</b></p>
<p><b>13. Anemometer:</b> Measures the wind speed and<br>transmits wind speed and direction data to the con-<br>troller.</p>
<p><b>14: Windvane:</b> Measures wind direction and commu-<br>nicates with the yaw drive to orient the turbine properly<br>with respect to the wind.</p>
<p><b>15: Controller:</b> The controller starts up the machine<br>at wind speeds of about 8 to 16 miles per hour (mph)<br>and shuts off the machine at about 55 mph. Turbines<br>do not operate at wind speeds above about 55 mph<br>because they might be damaged by the high winds.</p>
<p><b>16: Tower:</b> Approximately 67 meters tall.</p>
</div>
<div id="src">Source: U.S. Department of Energy, Northland Power Inc.</div>
<div id="cred">S<span class="s">UN</span> J<span class="s">OURNAL GRAPHIC</span> P<span class="s">ETE</span> G<span class="s">ORSKI</span></div>
</body></html>
